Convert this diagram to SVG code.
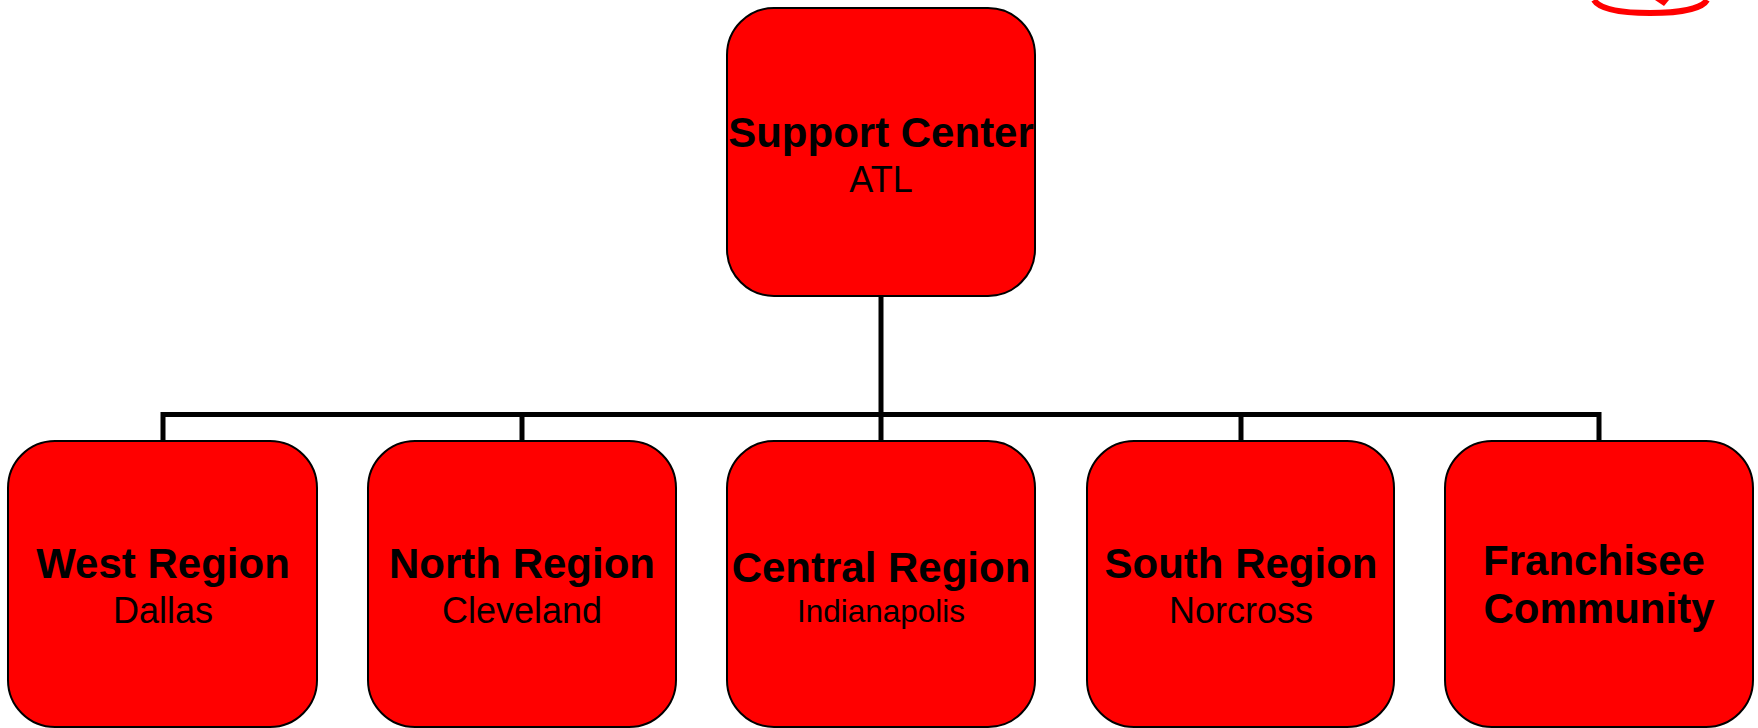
<svg xmlns="http://www.w3.org/2000/svg" width="1758" height="728" viewBox="0 0 1758 728">
<style>
.box{fill:#ff0000;stroke:#000;stroke-width:2}
.conn{fill:none;stroke:#000;stroke-width:5;stroke-linejoin:miter}
.t{font-family:"Liberation Sans",Arial,sans-serif;fill:#000;text-anchor:middle}
.b{font-weight:bold;font-size:42px}
.r{font-size:36px}
</style>
<rect width="1758" height="728" fill="#fff"/>
<g id="logo">
<path d="M1594,0 C1600,10 1625,13 1650,13 C1678,13 1702,9 1707,0" fill="none" stroke="#ff0000" stroke-width="6"/>
<path d="M1655,0 L1664,6 L1669,0 Z" fill="#ff0000"/>
</g>
<g id="connectors">
<path class="conn" d="M881,296 V414.5"/>
<path class="conn" d="M163,441 V414.5 H1599 V441"/>
<path class="conn" d="M522,414.5 V441"/>
<path class="conn" d="M881,414.5 V441"/>
<path class="conn" d="M1241,414.5 V441"/>
</g>
<g id="support-center">
<rect class="box" x="727" y="8" width="308" height="288" rx="47"/>
<text class="t b" x="881" y="147">Support Center</text>
<text class="t r" x="881" y="192">ATL</text>
</g>
<g id="west-region">
<rect class="box" x="8" y="441" width="309" height="286" rx="47"/>
<text class="t b" x="163" y="578">West Region</text>
<text class="t r" x="163" y="623">Dallas</text>
</g>
<g id="north-region">
<rect class="box" x="368" y="441" width="308" height="286" rx="47"/>
<text class="t b" x="522" y="578">North Region</text>
<text class="t r" x="522" y="623">Cleveland</text>
</g>
<g id="central-region">
<rect class="box" x="727" y="441" width="308" height="286" rx="47"/>
<text class="t b" x="881" y="582">Central Region</text>
<text class="t" style="font-size:31.5px" x="881" y="622">Indianapolis</text>
</g>
<g id="south-region">
<rect class="box" x="1087" y="441" width="307" height="286" rx="47"/>
<text class="t b" x="1241" y="578">South Region</text>
<text class="t r" x="1241" y="623">Norcross</text>
</g>
<g id="franchisee-community">
<rect class="box" x="1445" y="441" width="308" height="286" rx="47"/>
<text class="t b" x="1594" y="575">Franchisee</text>
<text class="t b" x="1599" y="623">Community</text>
</g>
</svg>
